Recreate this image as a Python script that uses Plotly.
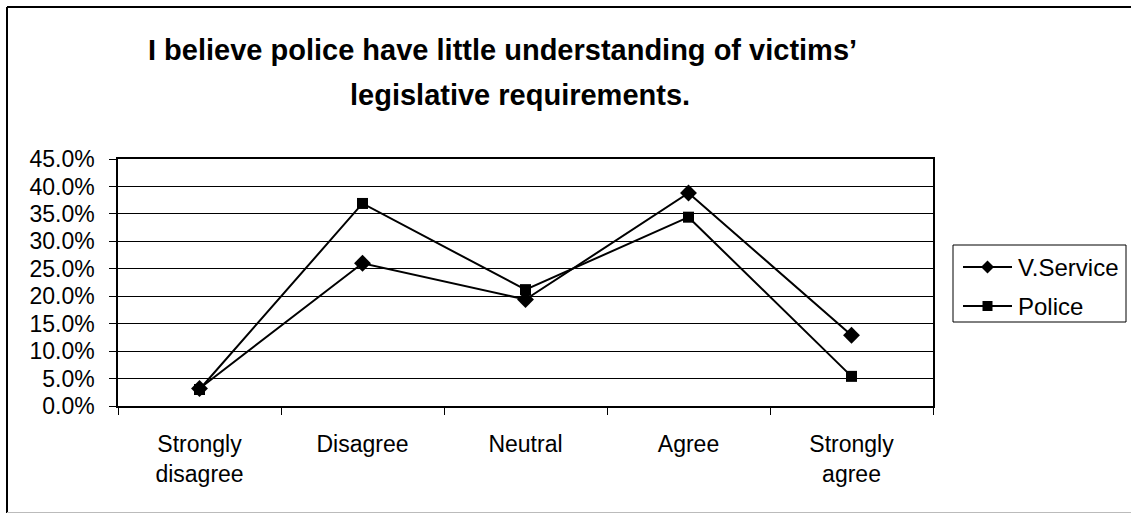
import plotly.graph_objects as go

# Survey responses (share of respondents)
categories = ["Strongly<br>disagree", "Disagree", "Neutral", "Agree", "Strongly<br>agree"]
v_service = [0.032, 0.260, 0.194, 0.388, 0.129]
police = [0.030, 0.369, 0.212, 0.344, 0.054]
y_ticks = [0.0, 0.05, 0.10, 0.15, 0.20, 0.25, 0.30, 0.35, 0.40, 0.45]
series_names = ["V.Service", "Police"]

title_line1 = "I believe police have little understanding of victims’"
title_line2 = "legislative requirements."

W, H = 1131, 514
ML, MR, MT, MB = 118, 198, 159, 108
PW, PH = W - ML - MR, H - MT - MB


def px_x(p):
    return (p - ML) / PW


def px_y(p):
    return (H - MB - p) / PH


FONT = "Liberation Sans, Arial, sans-serif"

fig = go.Figure()
fig.add_trace(go.Scatter(
    x=categories, y=v_service, name=series_names[0], mode="lines+markers",
    line=dict(color="black", width=2),
    marker=dict(symbol="diamond", size=13, color="black"),
))
fig.add_trace(go.Scatter(
    x=categories, y=police, name=series_names[1], mode="lines+markers",
    line=dict(color="black", width=2),
    marker=dict(symbol="square", size=11, color="black"),
))

# Frame around the whole chart (top, left, bottom edges)
shapes = [
    dict(type="line", xref="paper", yref="paper",
         x0=px_x(7), x1=px_x(1131), y0=px_y(7), y1=px_y(7),
         line=dict(color="black", width=2)),
    dict(type="line", xref="paper", yref="paper",
         x0=px_x(7), x1=px_x(7), y0=px_y(7), y1=px_y(513),
         line=dict(color="black", width=2)),
    dict(type="line", xref="paper", yref="paper",
         x0=px_x(7), x1=px_x(1131), y0=px_y(512.5), y1=px_y(512.5),
         line=dict(color="#bbbbbb", width=1)),
]

# Legend box drawn by hand: long sample lines with the series markers
LEG_L, LEG_R, LEG_T, LEG_B = 953, 1126, 245, 322
shapes.append(dict(type="rect", xref="paper", yref="paper",
                   x0=px_x(LEG_L), x1=px_x(LEG_R), y0=px_y(LEG_T), y1=px_y(LEG_B),
                   line=dict(color="black", width=1), fillcolor="white"))
row_y = [267, 306]
line_x0, line_x1 = 963, 1012
mid = (line_x0 + line_x1) / 2
legend_text = []
for i, name in enumerate(series_names):
    yy = row_y[i]
    shapes.append(dict(type="line", xref="paper", yref="paper",
                       x0=px_x(line_x0), x1=px_x(line_x1), y0=px_y(yy), y1=px_y(yy),
                       line=dict(color="black", width=2)))
    if i == 0:
        d = 6.5
        path = (f"M{px_x(mid - d)},{px_y(yy)} L{px_x(mid)},{px_y(yy - d)} "
                f"L{px_x(mid + d)},{px_y(yy)} L{px_x(mid)},{px_y(yy + d)} Z")
        shapes.append(dict(type="path", xref="paper", yref="paper", path=path,
                           fillcolor="black", line=dict(color="black", width=0)))
    else:
        s = 5
        shapes.append(dict(type="rect", xref="paper", yref="paper",
                           x0=px_x(mid - s), x1=px_x(mid + s),
                           y0=px_y(yy - s), y1=px_y(yy + s),
                           fillcolor="black", line=dict(color="black", width=0)))
    legend_text.append(dict(text=name, xref="paper", yref="paper",
                            x=px_x(1016), y=px_y(yy), xanchor="left", yanchor="middle",
                            showarrow=False, font=dict(size=24, family=FONT)))

fig.update_layout(
    width=W, height=H,
    margin=dict(l=ML, r=MR, t=MT, b=MB, autoexpand=False),
    paper_bgcolor="white", plot_bgcolor="white",
    font=dict(family=FONT, size=23, color="black"),
    showlegend=False,
    xaxis=dict(
        type="category", range=[-0.5, 4.5],
        showline=True, linecolor="black", linewidth=2, mirror=True,
        ticks="outside", ticklen=7, tickcolor="black", tickson="boundaries",
        showgrid=False, ticklabelstandoff=16,
        tickfont=dict(size=23),
    ),
    yaxis=dict(
        range=[0, 0.45], tickvals=y_ticks, tickformat=".1%",
        showline=True, linecolor="black", linewidth=1.5, mirror=True,
        ticks="outside", ticklen=7, tickcolor="black",
        showgrid=True, gridcolor="black", gridwidth=1,
        zeroline=False, ticklabelstandoff=10,
        tickfont=dict(size=23),
    ),
    annotations=[
        dict(text=f"<b>{title_line1}</b>", xref="paper", yref="paper",
             x=px_x(502), y=px_y(50), xanchor="center", yanchor="middle",
             showarrow=False, font=dict(size=29, family=FONT)),
        dict(text=f"<b>{title_line2}</b>", xref="paper", yref="paper",
             x=px_x(520), y=px_y(95), xanchor="center", yanchor="middle",
             showarrow=False, font=dict(size=29, family=FONT)),
    ] + legend_text,
    shapes=shapes,
)

fig.write_html("out.html")
